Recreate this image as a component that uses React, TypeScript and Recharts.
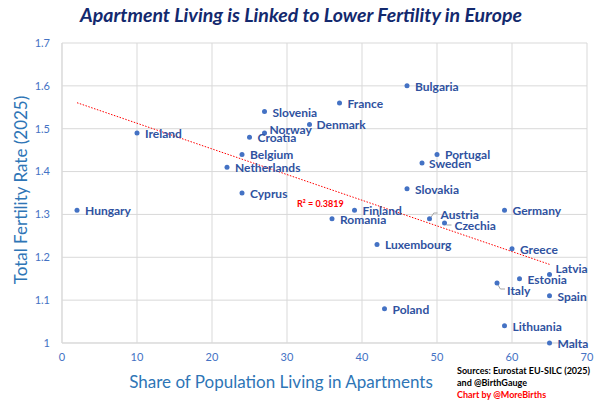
import {
  ScatterChart,
  Scatter,
  XAxis,
  YAxis,
  CartesianGrid,
  ReferenceLine,
} from 'recharts'

const COUNTRIES = [
  'Hungary', 'Ireland', 'Slovenia', 'Norway', 'Croatia', 'Belgium', 'Netherlands',
  'Cyprus', 'Denmark', 'France', 'Bulgaria', 'Portugal', 'Sweden', 'Slovakia',
  'Finland', 'Romania', 'Austria', 'Germany', 'Czechia', 'Luxembourg', 'Greece',
  'Latvia', 'Estonia', 'Italy', 'Spain', 'Poland', 'Lithuania', 'Malta',
]
const APARTMENT_SHARE = [
  2, 10, 27, 27, 25, 24, 22,
  24, 33, 37, 46, 50, 48, 46,
  39, 36, 49, 59, 51, 42, 60,
  65, 61, 58, 65, 43, 59, 65,
]
const FERTILITY_RATE = [
  1.31, 1.49, 1.54, 1.49, 1.48, 1.44, 1.41,
  1.35, 1.51, 1.56, 1.6, 1.44, 1.42, 1.36,
  1.31, 1.29, 1.29, 1.31, 1.28, 1.23, 1.22,
  1.16, 1.15, 1.14, 1.11, 1.08, 1.04, 1.0,
]
const X_TICKS = [0, 10, 20, 30, 40, 50, 60, 70]
const Y_TICKS = [1, 1.1, 1.2, 1.3, 1.4, 1.5, 1.6, 1.7]
const R_SQUARED = '0.3819'

const data = COUNTRIES.map((name, i) => ({
  name,
  x: APARTMENT_SHARE[i],
  y: FERTILITY_RATE[i],
}))

// least-squares trendline across the data range
const n = data.length
const meanX = data.reduce((s, d) => s + d.x, 0) / n
const meanY = data.reduce((s, d) => s + d.y, 0) / n
const slope =
  data.reduce((s, d) => s + (d.x - meanX) * (d.y - meanY), 0) /
  data.reduce((s, d) => s + (d.x - meanX) ** 2, 0)
const intercept = meanY - slope * meanX
const minX = Math.min(...APARTMENT_SHARE)
const maxX = Math.max(...APARTMENT_SHARE)

// label placement tweaks (offset from the point)
const LABEL_OFFSET: Record<string, { dx: number; dy: number; leader?: string }> = {
  Norway: { dx: 5, dy: -4 },
  Denmark: { dx: 7, dy: 0 },
  Sweden: { dx: 7, dy: 0.5 },
  Latvia: { dx: 6, dy: -6 },
  Austria: { dx: 11, dy: -4.5, leader: '1.7,-1.7 4.3,-5.7 8,-5.7' },
  Czechia: { dx: 10, dy: 2.5, leader: '2,2 7,2' },
  Italy: { dx: 10, dy: 7, leader: '1,2 3.4,6 8,6' },
}

const FONT = 'Lato, "Open Sans", sans-serif'
const LABEL_COLOR = '#2F52A0'
const DOT_COLOR = '#4472C4'
const GRID = '#D9D9D9'

function PointWithLabel(props: any) {
  const { cx, cy, payload } = props
  const off = LABEL_OFFSET[payload.name] || { dx: 8, dy: 0.5 }
  return (
    <g>
      {off.leader && (
        <polyline
          points={off.leader
            .split(' ')
            .map((p) => {
              const [a, b] = p.split(',').map(Number)
              return `${cx + a},${cy + b}`
            })
            .join(' ')}
          fill="none"
          stroke="#A6A6A6"
          strokeWidth={1}
        />
      )}
      <circle cx={cx} cy={cy} r={2.5} fill={DOT_COLOR} />
      <text
        x={cx + off.dx}
        y={cy + off.dy}
        dominantBaseline="central"
        fontFamily={FONT}
        fontWeight={700}
        fontSize={12}
        fill={LABEL_COLOR}
      >
        {payload.name}
      </text>
    </g>
  )
}

export default function App() {
  return (
    <div
      style={{
        position: 'absolute',
        left: 0,
        top: 0,
        width: 602,
        height: 400,
        background: '#fff',
        fontFamily: FONT,
      }}
    >
      <div
        style={{
          position: 'absolute',
          left: 0,
          width: 602,
          top: 3,
          textAlign: 'center',
          fontSize: 19.5,
          fontWeight: 700,
          fontStyle: 'italic',
          color: '#13296E',
        }}
      >
        Apartment Living is Linked to Lower Fertility in Europe
      </div>

      <ScatterChart
        width={602}
        height={400}
        margin={{ top: 43, right: 15, bottom: 27, left: 22 }}
      >
        <CartesianGrid stroke={GRID} strokeWidth={1} />
        <XAxis
          type="number"
          dataKey="x"
          domain={[0, 70]}
          ticks={X_TICKS}
          height={30}
          stroke={GRID}
          tickLine={false}
          tickSize={0}
          tickMargin={10}
          tick={{ fill: DOT_COLOR, fontSize: 11, fontFamily: FONT }}
        />
        <YAxis
          type="number"
          dataKey="y"
          domain={[1, 1.7]}
          ticks={Y_TICKS}
          width={40}
          stroke={GRID}
          tickLine={false}
          tickSize={0}
          tickMargin={12}
          tick={{ fill: DOT_COLOR, fontSize: 11, fontFamily: FONT }}
        />
        <ReferenceLine
          segment={[
            { x: minX, y: intercept + slope * minX },
            { x: maxX, y: intercept + slope * maxX },
          ]}
          stroke="#FF0000"
          strokeWidth={1}
          strokeDasharray="1.5 1.5"
        />
        <Scatter data={data} shape={PointWithLabel} isAnimationActive={false} />
      </ScatterChart>

      <div
        style={{
          position: 'absolute',
          left: 297,
          top: 198,
          fontSize: 9,
          fontWeight: 700,
          color: '#FF0000',
        }}
      >
        R² = {R_SQUARED}
      </div>

      <div
        style={{
          position: 'absolute',
          left: 20,
          top: 190,
          transform: 'translate(-50%, -50%) rotate(-90deg)',
          whiteSpace: 'nowrap',
          fontSize: 17,
          color: '#2E75B6',
        }}
      >
        Total Fertility Rate (2025)
      </div>
      <div
        style={{
          position: 'absolute',
          left: 281,
          top: 381,
          transform: 'translate(-50%, -50%)',
          whiteSpace: 'nowrap',
          fontSize: 17,
          color: '#2E75B6',
        }}
      >
        Share of Population Living in Apartments
      </div>

      <div
        style={{
          position: 'absolute',
          left: 457,
          top: 365,
          fontSize: 9,
          fontWeight: 700,
          lineHeight: '12px',
          whiteSpace: 'nowrap',
        }}
      >
        <div style={{ color: '#000' }}>Sources: Eurostat EU-SILC (2025)</div>
        <div style={{ color: '#000' }}>and @BirthGauge</div>
        <div style={{ color: '#FF0000' }}>Chart by @MoreBirths</div>
      </div>
    </div>
  )
}
